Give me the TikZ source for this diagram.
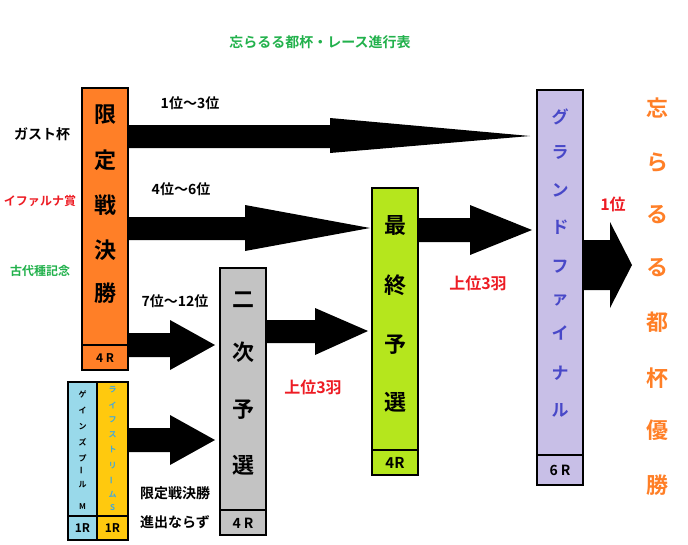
\documentclass[tikz,border=0pt]{standalone}
\usepackage{fontspec}
\setmainfont{Noto Sans CJK JP}[BoldFont={Noto Sans CJK JP Bold}]
\begin{document}
\begin{tikzpicture}[x=1pt,y=-1pt,
  box/.style={draw=black,line width=2.5pt},
  cell/.style={draw=black,line width=2.5pt},
  arr/.style={fill=black},
  lbl/.style={font=\bfseries\fontsize{14}{16}\selectfont,inner sep=0},
  vch/.style={font=\bfseries\fontsize{22}{24}\selectfont,inner sep=0},
  sch/.style={font=\bfseries\fontsize{8}{9}\selectfont,inner sep=0}]
\useasboundingbox (0,0) rectangle (688,544);
\definecolor{org}{HTML}{FF7F27}\definecolor{grn}{HTML}{B5E61D}
\definecolor{lav}{HTML}{C8BFE7}\definecolor{gry}{HTML}{C3C3C3}
\definecolor{sky}{HTML}{99D9EA}\definecolor{yel}{HTML}{FFC90E}
\definecolor{tgreen}{HTML}{22B14C}\definecolor{tred}{HTML}{ED1C24}
\definecolor{tpur}{HTML}{4848C8}\definecolor{torg}{HTML}{FF7F27}
\definecolor{tcy}{HTML}{40A8E0}
% arrows
\fill[arr] (128,125) -- (330,125) -- (330,118) -- (530,136) -- (330,153) -- (330,148) -- (128,148) -- cycle;
\fill[arr] (128,217) -- (245,217) -- (245,205) -- (370,228) -- (245,251) -- (245,240) -- (128,240) -- cycle;
\fill[arr] (128,333) -- (170,333) -- (170,320) -- (215,345) -- (170,370) -- (170,357) -- (128,357) -- cycle;
\fill[arr] (128,428) -- (170,428) -- (170,415) -- (215,440) -- (170,465) -- (170,452) -- (128,452) -- cycle;
\fill[arr] (266,320) -- (315,320) -- (315,308) -- (368,331) -- (315,355) -- (315,343) -- (266,343) -- cycle;
\fill[arr] (418,218) -- (470,218) -- (470,205) -- (532,230) -- (470,255) -- (470,242) -- (418,242) -- cycle;
\fill[arr] (583,240) -- (610,240) -- (610,222) -- (632,265) -- (610,308) -- (610,290) -- (583,290) -- cycle;
% boxes
\draw[box,fill=org] (82,88) rectangle (128,370); \draw[cell,fill=org] (82,345) rectangle (128,370);
\node[font=\bfseries\fontsize{12}{14}\selectfont] (o4) at (105,358) {4 R};
\draw[box,fill=gry] (220,268) rectangle (266,535); \draw[cell] (220,510) rectangle (266,535);
\node[font=\bfseries\fontsize{14}{16}\selectfont] (g4) at (243,523) {4 R};
\draw[box,fill=grn] (372,188) rectangle (418,475); \draw[cell] (372,450) rectangle (418,475);
\node[font=\bfseries\fontsize{15}{16}\selectfont] (n4) at (395,463) {4R};
\draw[box,fill=lav] (537,90) rectangle (583,485); \draw[cell] (537,455) rectangle (583,485);
\node[font=\bfseries\fontsize{14}{16}\selectfont] (l6) at (560,470) {6 R};
\draw[box,fill=sky] (68,382) rectangle (97,540); \draw[cell] (68,516) rectangle (97,540);
\draw[box,fill=yel] (97,382) rectangle (128,540); \draw[cell] (97,516) rectangle (128,540);
\node[font=\bfseries\fontsize{12}{14}\selectfont] (s1) at (82.5,528) {1R};
\node[font=\bfseries\fontsize{12}{14}\selectfont] (y1) at (112.5,528) {1R};
% vertical texts
\foreach \c/\y [count=\i] in {限/115,定/160,戦/205,決/250,勝/293} \node[vch] (oc\i) at (105,\y) {\c};
\foreach \c/\y [count=\i] in {二/300,次/352,予/410,選/465} \node[vch] (gc\i) at (243,\y) {\c};
\foreach \c/\y [count=\i] in {最/225,終/285,予/345,選/402} \node[vch] (nc\i) at (395,\y) {\c};
\foreach \c/\y [count=\i] in {グ/117,ラ/152,ン/190,ド/227,フ/267,ァ/300,イ/333,ナ/373,ル/410} \node[inner sep=0,text=tpur,font=\bfseries\fontsize{17}{19}\selectfont] (lc\i) at (560,\y) {\c};
\foreach \c/\y [count=\i] in {ゲ/394,イ/410,ン/427,ズ/442,プ/458,ル/485,M/507} \node[sch] (sc\i) at (82.5,\y) {\c};
\node[sch,rotate=90] (sbar) at (82.5,470) {ー};
\foreach \c/\y [count=\i] in {ラ/390,イ/405,フ/420,ス/435,ト/450,リ/466,ム/495,S/508} \node[sch,text=tcy] (yc\i) at (112.5,\y) {\c};
\node[sch,text=tcy,rotate=90] (ybar) at (112.5,480) {ー};
\foreach \c/\y [count=\i] in {忘/108,ら/163,る/215,る/268,都/322,杯/378,優/430,勝/485} \node[vch,text=torg] (wc\i) at (657,\y) {\c};
% labels
\node[lbl,text=tgreen] (title) at (320,42) {忘らるる都杯・レース進行表};
\node[lbl] (l1) at (190,103) {1位～3位};
\node[lbl] (l2) at (181,189) {4位～6位};
\node[lbl] (l3) at (175,301) {7位～12位};
\node[lbl] (l4) at (175,493) {限定戦決勝};
\node[lbl] (l5) at (175,522) {進出ならず};
\node[lbl,text=tred,font=\bfseries\fontsize{16}{18}\selectfont] (l6) at (313,387) {上位3羽};
\node[lbl,text=tred,font=\bfseries\fontsize{16}{18}\selectfont] (l7) at (478,283) {上位3羽};
\node[lbl,text=tred,font=\bfseries\fontsize{16}{18}\selectfont] (l8) at (613,204) {1位};
\node[lbl] (r1) at (42,134) {ガスト杯};
\node[lbl,text=tred,font=\bfseries\fontsize{12}{14}\selectfont] (r2) at (40,201) {イファルナ賞};
\node[lbl,text=tgreen,font=\bfseries\fontsize{12}{14}\selectfont] (r3) at (40,271) {古代種記念};
\end{tikzpicture}
\end{document}
